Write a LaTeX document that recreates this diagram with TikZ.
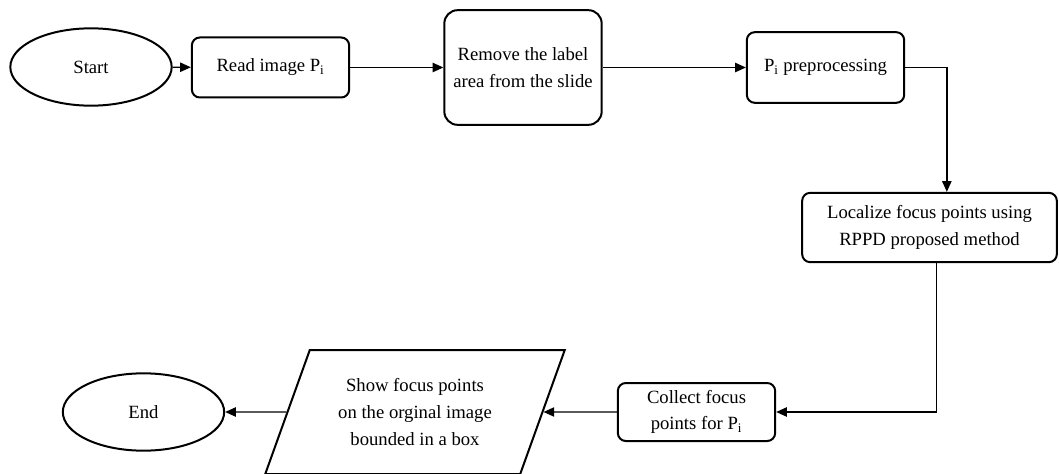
\documentclass[tikz,border=0pt]{standalone}
\usepackage{fontspec}
\setmainfont{Liberation Serif}
\usetikzlibrary{arrows.meta,shapes.geometric}
\begin{document}
\begin{tikzpicture}[x=0.75pt,y=-0.75pt,
  every node/.style={font=\fontsize{14}{20}\selectfont,align=center},
  term/.style={draw,ellipse,line width=1.5pt,inner sep=0pt,minimum width=121pt,minimum height=58pt},
  proc/.style={draw,rectangle,rounded corners=6pt,line width=1.5pt,inner sep=2pt,minimum width=118pt,minimum height=45pt},
  io/.style={draw,trapezium,trapezium left angle=64,trapezium right angle=116,trapezium stretches=true,line width=1.5pt,inner sep=0pt,minimum width=225pt,minimum height=93pt},
  flow/.style={line width=1pt,-{Triangle[length=8pt,width=7pt]}}]
\useasboundingbox (0,0) rectangle (1059,474);
\node[term] (start) at (91,67) {Start};
\node[proc] (read) at (270.5,67.5) {Read image P\textsubscript{i}};
\node[proc,rounded corners=10pt,minimum height=86pt] (remove) at (523,67.5) {Remove the label\\area from the slide};
\node[proc,minimum height=53pt] (prep) at (825.5,67.5) {P\textsubscript{i} preprocessing};
\node[proc,minimum width=191pt,minimum height=52pt] (local) at (929.5,227.5) {Localize focus points using\\RPPD proposed method};
\node[proc,minimum height=43.5pt] (collect) at (696.5,412) {Collect focus\\points for P\textsubscript{i}};
\node[io] (show) at (415,412) {Show focus points\\on the orginal image\\bounded in a box};
\node[term] (end) at (143.5,412) {End};
\draw[flow] (start) -- (read);
\draw[flow] (read) -- (remove);
\draw[flow] (remove) -- (prep);
\draw[flow] (prep.east) -| ([xshift=13pt]local.north);
\draw[flow] ([xshift=5pt]local.south) |- (collect.east);
\draw[flow] (collect) -- (show);
\draw[flow] (show) -- (end);
\end{tikzpicture}
\end{document}
